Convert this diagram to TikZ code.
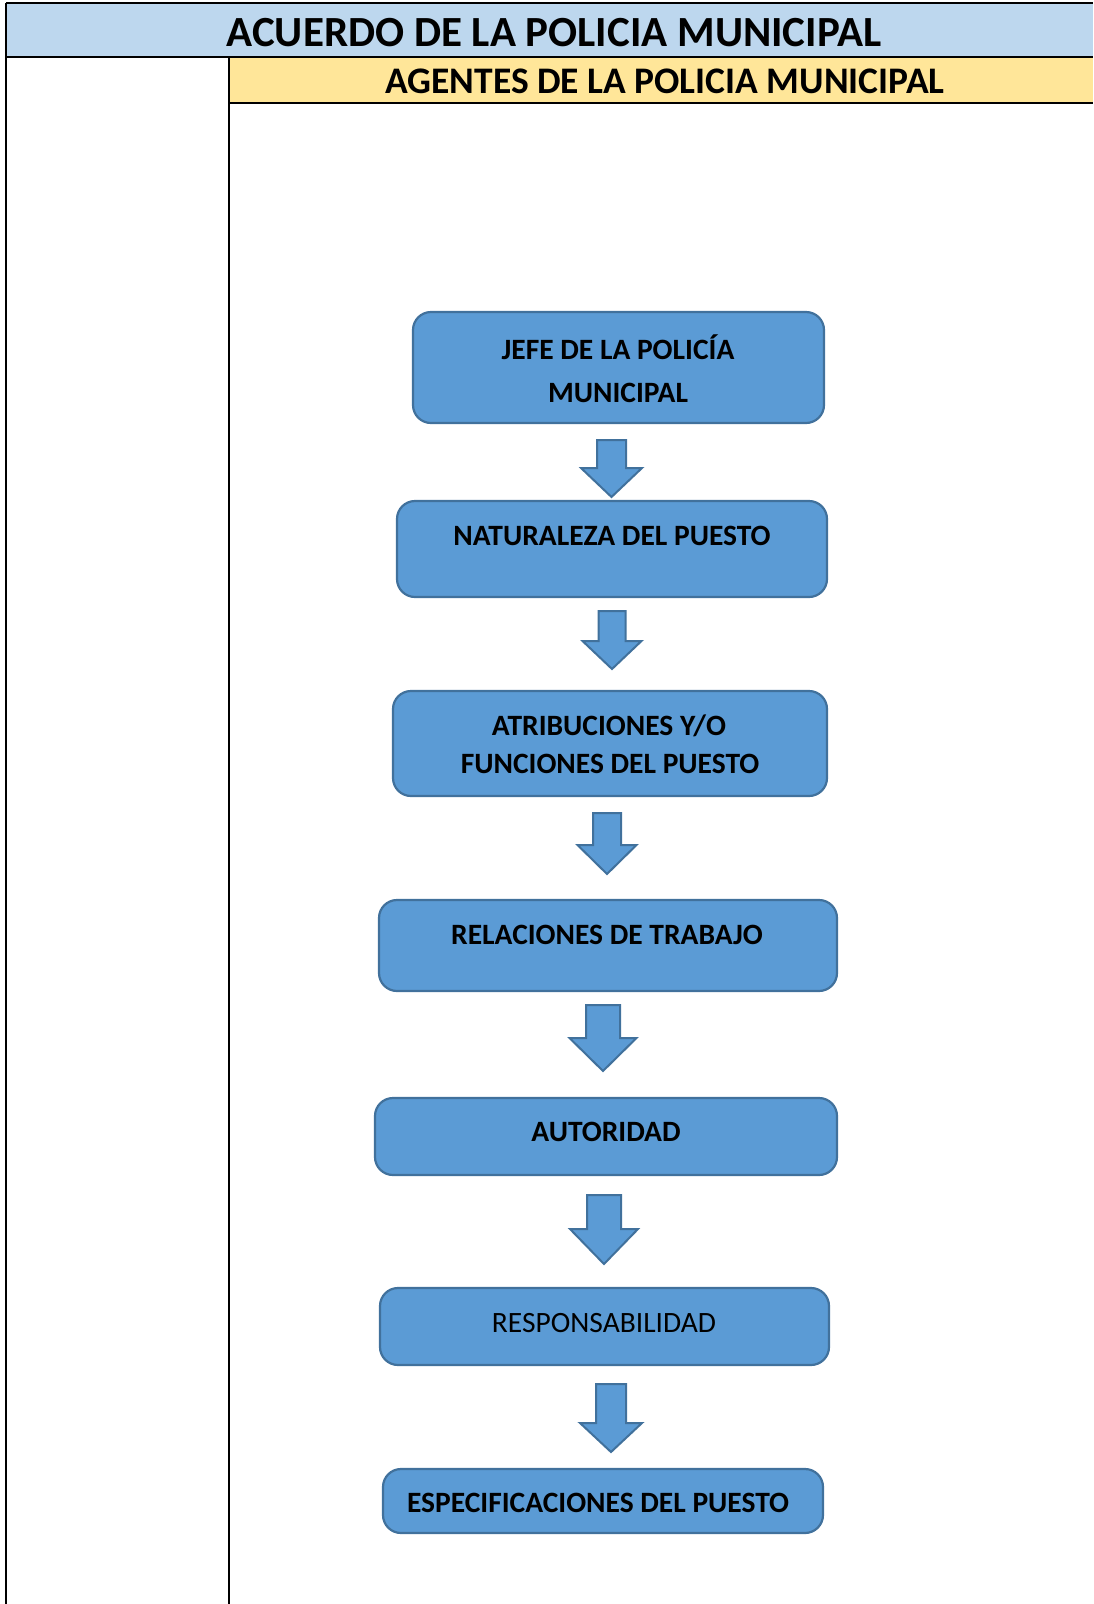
\documentclass[tikz,border=0pt]{standalone}
\usepackage{fontspec}
\setmainfont{Carlito}
\definecolor{hdrblue}{HTML}{BDD7EE}
\definecolor{hdryellow}{HTML}{FFE699}
\definecolor{boxfill}{HTML}{5B9BD5}
\definecolor{boxline}{HTML}{41719C}

\tikzset{
  frame/.style={line width=2.6pt, black},
  stagebox/.style={draw=boxline, fill=boxfill, line width=2.2pt,
    rounded corners=18pt, inner sep=0pt},
  stagetext/.style={font=\fontsize{29.5}{34}\selectfont\bfseries,
    anchor=base, inner sep=0pt, text=black},
  flowarrow/.style={draw=boxline, fill=boxfill, line width=2pt, line join=miter},
}

% block arrow pointing down: centre x, top, head start, tip, shaft half width, head half width
\newcommand\downblock[6]{%
  \draw[flowarrow] (#1-#5,#2) -- (#1+#5,#2) -- (#1+#5,#3) -- (#1+#6,#3)
    -- (#1,#4) -- (#1-#6,#3) -- (#1-#5,#3) -- cycle;}

\begin{document}
\begin{tikzpicture}[x=1pt,y=-1pt]
\useasboundingbox (0,0) rectangle (1093,1604);

% title bands
\fill[hdrblue] (6,3) rectangle (1093,57);
\fill[hdryellow] (229,57) rectangle (1093,103);
\draw[frame] (6,3) -- (1093,3);
\draw[frame] (6,57) -- (1093,57);
\draw[frame] (229,103) -- (1093,103);
\draw[frame] (6,3) -- (6,1604);
\draw[frame] (229,57) -- (229,1604);

\node[anchor=base, inner sep=0pt, font=\fontsize{43}{47}\selectfont\bfseries]
  (title) at (554,46) {ACUERDO DE LA POLICIA MUNICIPAL};
\node[anchor=base, inner sep=0pt, font=\fontsize{37.5}{41}\selectfont\bfseries]
  (subtitle) at (665,93) {AGENTES DE LA POLICIA MUNICIPAL};

% stage boxes
\node[stagebox, minimum width=411, minimum height=111] (b1) at (618.5,367.5) {};
\node[stagebox, minimum width=430, minimum height=96]  (b2) at (612,549) {};
\node[stagebox, minimum width=434, minimum height=105] (b3) at (610,743.5) {};
\node[stagebox, minimum width=458, minimum height=91]  (b4) at (608,945.5) {};
\node[stagebox, minimum width=462, minimum height=77]  (b5) at (606,1136.5) {};
\node[stagebox, minimum width=449, minimum height=77]  (b6) at (604.5,1326.5) {};
\node[stagebox, minimum width=440, minimum height=64]  (b7) at (603,1501) {};

% stage labels
\node[stagetext] (t1a) at (618,359) {JEFE DE LA POLICÍA};
\node[stagetext] (t1b) at (618,402) {MUNICIPAL};
\node[stagetext] (t2)  at (612,545) {NATURALEZA DEL PUESTO};
\node[stagetext] (t3a) at (609,735) {ATRIBUCIONES Y/O};
\node[stagetext] (t3b) at (610,773) {FUNCIONES DEL PUESTO};
\node[stagetext] (t4)  at (607,944) {RELACIONES DE TRABAJO};
\node[stagetext] (t5)  at (606,1141) {AUTORIDAD};
\node[stagetext, font=\fontsize{29.5}{34}\selectfont] (t6) at (604,1332) {RESPONSABILIDAD};
\node[stagetext] (t7)  at (598,1512) {ESPECIFICACIONES DEL PUESTO};

% arrows between stages
\downblock{611.5}{440}{468}{497}{14.5}{30.5}
\downblock{612}{611}{641}{669}{13.5}{29.5}
\downblock{607}{813}{845}{874}{14}{29.5}
\downblock{603}{1005}{1038}{1071}{17}{33.5}
\downblock{604}{1195}{1229}{1264}{17}{34}
\downblock{611}{1384}{1423}{1452}{15}{31}
\end{tikzpicture}
\end{document}
